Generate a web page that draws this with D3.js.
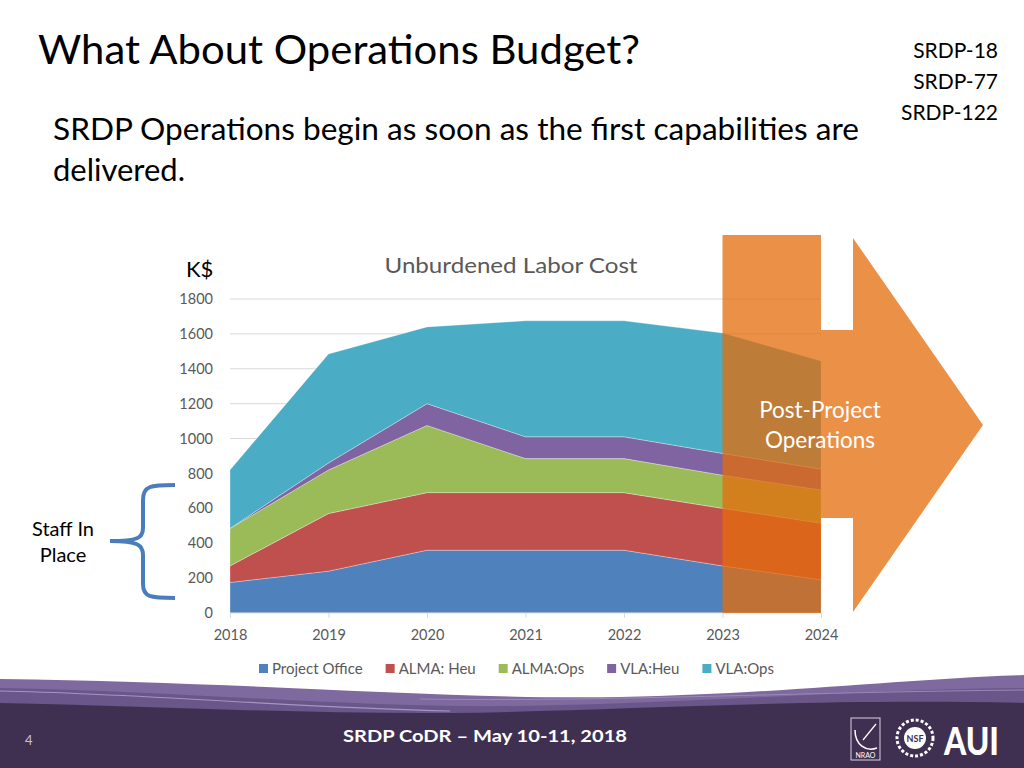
<!DOCTYPE html>
<html>
<head>
<meta charset="utf-8">
<script src="https://cdn.jsdelivr.net/npm/d3@7"></script>
<style>
  html, body { margin: 0; padding: 0; background: #fff; }
  svg { display: block; }
</style>
</head>
<body>
<svg id="chart" width="1024" height="768"></svg>
<script>
// ---------- DATA ----------
const years = ["2018", "2019", "2020", "2021", "2022", "2023", "2024"];
const seriesNames = ["Project Office", "ALMA: Heu", "ALMA:Ops", "VLA:Heu", "VLA:Ops"];
const projectOffice = [175, 240, 360, 360, 360, 270, 190];
const almaHeu       = [95, 330, 330, 330, 330, 330, 325];
const almaOps       = [215, 250, 385, 195, 195, 190, 190];
const vlaHeu        = [0, 40, 125, 125, 125, 125, 120];
const vlaOps        = [335, 625, 440, 665, 665, 690, 620];
const yTicks = [0, 200, 400, 600, 800, 1000, 1200, 1400, 1600, 1800];
const seriesColors = ["#4F81BD", "#C0504D", "#9BBB59", "#8064A2", "#4BACC6"];

const titleText = "What About Operations Budget?";
const subtitleLines = ["SRDP Operations begin as soon as the first capabilities are", "delivered."];
const refLines = ["SRDP-18", "SRDP-77", "SRDP-122"];
const chartTitle = "Unburdened Labor Cost";
const unitLabel = "K$";
const calloutLines = ["Post-Project", "Operations"];
const staffLines = ["Staff In", "Place"];
const footerText = "SRDP CoDR \u2013 May 10-11, 2018";
const pageNumber = "4";

// ---------- SETUP ----------
const svg = d3.select("#chart");
const sans = "Lato, 'Open Sans', sans-serif";
const chartFont = "Lato, 'Open Sans', sans-serif";

const table = years.map((y, i) => ({
  year: y,
  "Project Office": projectOffice[i],
  "ALMA: Heu": almaHeu[i],
  "ALMA:Ops": almaOps[i],
  "VLA:Heu": vlaHeu[i],
  "VLA:Ops": vlaOps[i]
}));

const x = d3.scalePoint().domain(years).range([230, 821]);
const y = d3.scaleLinear().domain([0, 1800]).range([613, 299]);

// ---------- TITLES ----------
svg.append("text").attr("x", 38).attr("y", 64)
  .attr("font-family", sans).attr("font-size", 41).attr("fill", "#000")
  .attr("textLength", 602).attr("lengthAdjust", "spacingAndGlyphs")
  .text(titleText);

svg.append("text").attr("x", 53).attr("y", 140)
  .attr("font-family", sans).attr("font-size", 30).attr("fill", "#000")
  .attr("textLength", 806).attr("lengthAdjust", "spacingAndGlyphs")
  .text(subtitleLines[0]);
svg.append("text").attr("x", 53).attr("y", 181)
  .attr("font-family", sans).attr("font-size", 30).attr("fill", "#000")
  .attr("textLength", 132).attr("lengthAdjust", "spacingAndGlyphs")
  .text(subtitleLines[1]);

svg.selectAll("text.ref").data(refLines).enter().append("text")
  .attr("class", "ref")
  .attr("x", 998).attr("y", (d, i) => 58 + i * 31)
  .attr("text-anchor", "end")
  .attr("font-family", sans).attr("font-size", 21).attr("fill", "#000")
  .text(d => d);

// ---------- CHART ----------
const g = svg.append("g");

// gridlines
g.selectAll("line.grid").data(yTicks.filter(t => t > 0)).enter().append("line")
  .attr("x1", 230).attr("x2", 821)
  .attr("y1", d => y(d)).attr("y2", d => y(d))
  .attr("stroke", "#D9D9D9").attr("stroke-width", 1);

// y axis labels
const yAxis = d3.axisLeft(y).tickValues(yTicks).tickFormat(d3.format("d")).tickSize(0).tickPadding(17);
const yg = g.append("g").attr("transform", "translate(230,0)").call(yAxis);
yg.select(".domain").remove();
yg.selectAll("text").attr("font-family", chartFont).attr("font-size", 14.5).attr("fill", "#595959");

// stacked areas
const stack = d3.stack().keys(seriesNames);
const layers = stack(table);
const area = d3.area()
  .x(d => x(d.data.year))
  .y0(d => y(d[0]))
  .y1(d => y(d[1]));

g.selectAll("path.layer").data(layers).enter().append("path")
  .attr("class", "layer")
  .attr("d", area)
  .attr("fill", (d, i) => seriesColors[i])
  .attr("stroke", "#fff").attr("stroke-width", 0.6).attr("stroke-opacity", 0.5);

// x axis
const xAxis = d3.axisBottom(x).tickSize(5).tickPadding(12);
const xg = g.append("g").attr("transform", "translate(0,613)").call(xAxis);
xg.select(".domain").attr("stroke", "#D9D9D9").attr("d", "M230,0H821");
xg.selectAll(".tick line").attr("stroke", "#D9D9D9");
xg.selectAll("text").attr("font-family", chartFont).attr("font-size", 14.5).attr("fill", "#595959");

// chart title and unit
svg.append("text").attr("x", 511).attr("y", 273).attr("text-anchor", "middle")
  .attr("font-family", chartFont).attr("font-size", 21).attr("fill", "#595959")
  .attr("textLength", 253).attr("lengthAdjust", "spacingAndGlyphs")
  .text(chartTitle);
svg.append("text").attr("x", 186).attr("y", 277)
  .attr("font-family", chartFont).attr("font-size", 22).attr("fill", "#000")
  .text(unitLabel);

// legend
const legend = svg.append("g").attr("transform", "translate(0,669)");
let lx = 259;
seriesNames.forEach((name, i) => {
  legend.append("rect").attr("x", lx).attr("y", -5).attr("width", 9).attr("height", 9)
    .attr("fill", seriesColors[i]);
  const t = legend.append("text").attr("x", lx + 13).attr("y", 5)
    .attr("font-family", chartFont).attr("font-size", 15).attr("fill", "#595959")
    .text(name);
  lx += 13 + t.node().getComputedTextLength() + 23;
});

// ---------- ARROW OVERLAY ----------
const rx0 = x("2023"), rx1 = x("2024");
const arrowPts = [
  [rx0, 235], [rx1, 235], [rx1, 330], [853, 330], [853, 238], [983, 425],
  [853, 612], [853, 518], [rx1, 518], [rx1, y(0)], [rx0, y(0)]
];
svg.append("path")
  .attr("d", d3.line()(arrowPts) + "Z")
  .attr("fill", "#E46C0A").attr("fill-opacity", 0.75);

svg.selectAll("text.callout").data(calloutLines).enter().append("text")
  .attr("class", "callout")
  .attr("x", 820).attr("y", (d, i) => 418 + i * 30)
  .attr("text-anchor", "middle")
  .attr("font-family", chartFont).attr("font-size", 22.5).attr("fill", "#fff")
  .text(d => d);

// ---------- STAFF IN PLACE BRACE ----------
svg.selectAll("text.staff").data(staffLines).enter().append("text")
  .attr("class", "staff")
  .attr("x", 63).attr("y", (d, i) => 536 + i * 26)
  .attr("text-anchor", "middle")
  .attr("font-family", sans).attr("font-size", 20).attr("fill", "#000")
  .text(d => d);

svg.append("path")
  .attr("d", "M175,485 C150,485 143,486 143,500 L143,528 C143,538 138,541 110,541 C138,541 143,545 143,555 L143,584 C143,597 150,598 175,598")
  .attr("fill", "none").attr("stroke", "#4A7EBB").attr("stroke-width", 4);

// ---------- FOOTER ----------
const foot = svg.append("g");
foot.append("path")
  .attr("d", "M0,679 C250,682 450,700 620,697 C780,694 900,679 1024,675 L1024,768 L0,768 Z")
  .attr("fill", "#7E6A9E");
foot.append("path")
  .attr("d", "M0,688 C200,692 350,708 520,706 C700,703 850,690 1024,688 L1024,768 L0,768 Z")
  .attr("fill", "#6A5689");
foot.append("path")
  .attr("d", "M0,703 C150,706 300,714 450,713 C620,711 800,698 1024,703 L1024,768 L0,768 Z")
  .attr("fill", "#3F3052");
foot.append("path")
  .attr("d", "M0,691 C150,694 300,708 450,711")
  .attr("fill", "none").attr("stroke", "#A696C2").attr("stroke-width", 1.2);
foot.append("path")
  .attr("d", "M420,699 C600,702 800,692 1024,690")
  .attr("fill", "none").attr("stroke", "#9A89B6").attr("stroke-width", 1);

foot.append("text").attr("x", 485).attr("y", 742).attr("text-anchor", "middle")
  .attr("font-family", sans).attr("font-weight", "bold").attr("font-size", 17).attr("fill", "#fff")
  .attr("textLength", 284).attr("lengthAdjust", "spacingAndGlyphs")
  .text(footerText);
foot.append("text").attr("x", 25).attr("y", 745)
  .attr("font-family", sans).attr("font-size", 13).attr("fill", "#C8C0D6")
  .text(pageNumber);

// logos (simplified)
foot.append("rect").attr("x", 851).attr("y", 718).attr("width", 29).attr("height", 42)
  .attr("fill", "none").attr("stroke", "#D8D2E2").attr("stroke-width", 1);
foot.append("path").attr("d", "M855,730 C855,745 866,752 877,748")
  .attr("fill", "none").attr("stroke", "#fff").attr("stroke-width", 1.5);
foot.append("path").attr("d", "M863,740 L876,724")
  .attr("fill", "none").attr("stroke", "#fff").attr("stroke-width", 1.2);
foot.append("text").attr("x", 865.5).attr("y", 758).attr("text-anchor", "middle")
  .attr("font-family", sans).attr("font-size", 7).attr("fill", "#fff").text("NRAO");
foot.append("circle").attr("cx", 915).attr("cy", 738).attr("r", 18)
  .attr("fill", "none").attr("stroke", "#fff").attr("stroke-width", 3).attr("stroke-dasharray", "3,2");
foot.append("circle").attr("cx", 915).attr("cy", 738).attr("r", 11)
  .attr("fill", "#fff");
foot.append("text").attr("x", 915).attr("y", 742).attr("text-anchor", "middle")
  .attr("font-family", sans).attr("font-weight", "bold").attr("font-size", 9).attr("fill", "#3F3052").text("NSF");
foot.append("text").attr("x", 944).attr("y", 755)
  .attr("font-family", sans).attr("font-weight", "900").attr("font-size", 38).attr("fill", "#fff")
  .attr("textLength", 55).attr("lengthAdjust", "spacingAndGlyphs").text("AUI");
</script>
</body>
</html>
